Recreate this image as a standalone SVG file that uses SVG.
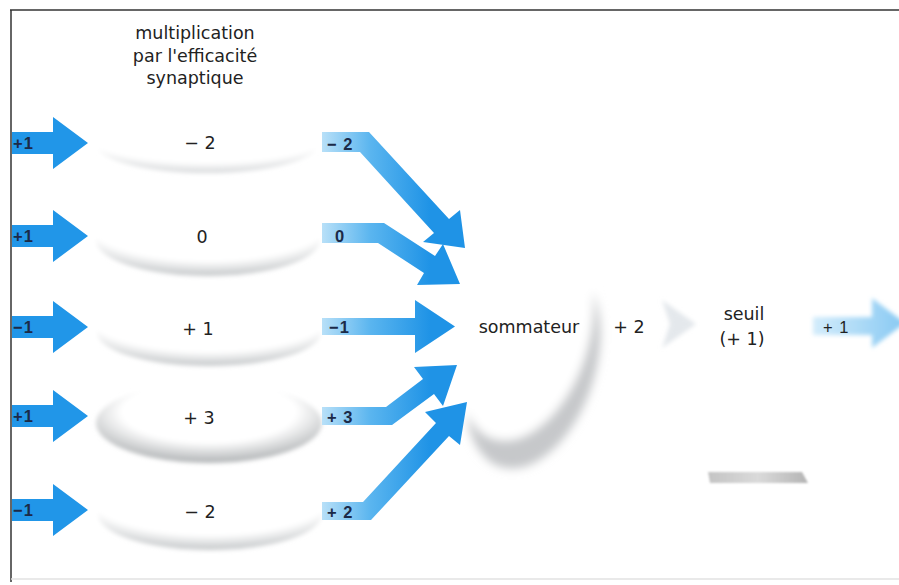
<svg xmlns="http://www.w3.org/2000/svg" width="899" height="585" viewBox="0 0 899 585">
<style>
  .t{font-family:"DejaVu Sans","Liberation Sans",sans-serif;fill:#222;}
  .title{font-size:17.5px;text-anchor:middle;}
  .val{font-size:17.5px;text-anchor:middle;}
  .lab{font-family:"Liberation Sans",sans-serif;font-size:16.5px;font-weight:bold;fill:#1b2a48;letter-spacing:1px;}
  .in{fill:#2196e8;}
  .out{fill:url(#outGrad);}
</style>
<defs>
  <linearGradient id="outGrad" gradientUnits="userSpaceOnUse" x1="322" y1="0" x2="430" y2="0">
    <stop offset="0" stop-color="#b8e0f8"/>
    <stop offset="0.45" stop-color="#5ab5ef"/>
    <stop offset="1" stop-color="#1f93e6"/>
  </linearGradient>
  <linearGradient id="finGrad" gradientUnits="userSpaceOnUse" x1="813" y1="0" x2="899" y2="0">
    <stop offset="0" stop-color="#d3ecfb"/>
    <stop offset="1" stop-color="#8ccbf3"/>
  </linearGradient>
  <radialGradient id="discFaint" cx="50%" cy="22%" r="78%">
    <stop offset="0.78" stop-color="#ffffff"/>
    <stop offset="1" stop-color="#d6d8da"/>
  </radialGradient>
  <radialGradient id="disc" cx="50%" cy="25%" r="75%">
    <stop offset="0.72" stop-color="#ffffff"/>
    <stop offset="1" stop-color="#c4c7c9"/>
  </radialGradient>
  <radialGradient id="discStrong" cx="50%" cy="36%" r="64%">
    <stop offset="0.6" stop-color="#ffffff"/>
    <stop offset="1" stop-color="#b0b3b5"/>
  </radialGradient>
  <linearGradient id="barGrad" x1="0" y1="0" x2="1" y2="0">
    <stop offset="0" stop-color="#c4c4c4"/>
    <stop offset="0.5" stop-color="#dadada"/>
    <stop offset="1" stop-color="#b4b4b4"/>
  </linearGradient>
  <filter id="soft" x="-20%" y="-20%" width="140%" height="140%">
    <feGaussianBlur stdDeviation="2"/>
  </filter>
  <filter id="soft1" x="-20%" y="-50%" width="140%" height="200%">
    <feGaussianBlur stdDeviation="0.8"/>
  </filter>
  <filter id="soft5" x="-30%" y="-30%" width="160%" height="160%">
    <feGaussianBlur stdDeviation="5"/>
  </filter>
</defs>

<rect x="0" y="0" width="899" height="585" fill="#ffffff"/>
<!-- frame -->
<g id="frame" fill="none">
  <line x1="10" y1="10" x2="899" y2="10" stroke="#333" stroke-width="1.5"/>
  <line x1="11" y1="10" x2="11" y2="582" stroke="#333" stroke-width="1.5"/>
  <line x1="11" y1="579" x2="899" y2="579" stroke="#e2e2e2" stroke-width="1.5"/>
</g>

<g id="title">
  <text class="t title" x="195" y="39">multiplication</text>
  <text class="t title" x="195" y="62">par l'efficacité</text>
  <text class="t title" x="195" y="84">synaptique</text>
</g>

<!-- discs (synapses) -->
<g id="disc1">
  <ellipse cx="207" cy="143" rx="112" ry="30" fill="url(#discFaint)" filter="url(#soft)"/>
  <text class="t val" x="200" y="149">− 2</text>
</g>
<g id="disc2">
  <ellipse cx="208" cy="240" rx="112" ry="36" fill="url(#disc)" filter="url(#soft)"/>
  <text class="t val" x="202" y="243">0</text>
</g>
<g id="disc3">
  <ellipse cx="209" cy="332" rx="112" ry="34" fill="url(#disc)" filter="url(#soft)"/>
  <text class="t val" x="198" y="335">+ 1</text>
</g>
<g id="disc4">
  <ellipse cx="209" cy="423" rx="113" ry="40" fill="url(#discStrong)" filter="url(#soft)"/>
  <text class="t val" x="199" y="424">+ 3</text>
</g>
<g id="disc5">
  <ellipse cx="210" cy="514" rx="112" ry="36" fill="url(#disc)" filter="url(#soft)"/>
  <text class="t val" x="200" y="518">− 2</text>
</g>

<!-- sommateur -->
<g id="sommateur">
  <g filter="url(#soft5)">
    <ellipse cx="533" cy="366" rx="62" ry="106" transform="rotate(18 533 366)" fill="#c6c8ca"/>
    <ellipse cx="526" cy="338" rx="62" ry="106" transform="rotate(18 526 338)" fill="#ffffff"/>
  </g>
  <text class="t val" x="529" y="333">sommateur</text>
</g>

<!-- seuil -->
<g id="seuil">
  <text class="t val" x="744" y="320">seuil</text>
  <text class="t val" x="742" y="345">(+ 1)</text>
  <polygon points="708,472 802,472 808,483 710,483" fill="url(#barGrad)" filter="url(#soft1)"/>
</g>

<g id="connectors">
  <!-- inputs -->
  <polygon class="in" points="12,132 53,132 53,117 88,143 53,169 53,154 12,154"/>
  <polygon class="in" points="12,225 53,225 53,210 88,236 53,262 53,247 12,247"/>
  <polygon class="in" points="12,316 53,316 53,301 88,327 53,353 53,338 12,338"/>
  <polygon class="in" points="12,405 53,405 53,390 88,416 53,442 53,427 12,427"/>
  <polygon class="in" points="12,499 53,499 53,484 88,510 53,536 53,521 12,521"/>
  <!-- outputs to sommateur -->
  <polygon class="out" points="322,132 369,132 449,219 460,210 465,248 423,242 434,233 360,152 322,152"/>
  <polygon class="out" points="322,223 384,223 435,256 443,244 460,284 417,285 424,273 378,243 322,243"/>
  <polygon class="out" points="322,318 415,318 415,300 455,326.5 415,353 415,335 322,335"/>
  <polygon class="out" points="322,407 386,407 423,379 414,367 457,365 443,406 434,394 392,425 322,425"/>
  <polygon class="out" points="322,502 363,502 436,423 425,412 467,402 460,445 449,436 371,520 322,520"/>
  <!-- sum to seuil (faint) -->
  <polygon points="662,300 696,324 662,348 670,324" fill="#e4e8ec" filter="url(#soft)"/>
  <!-- output -->
  <polygon fill="url(#finGrad)" points="813,317 872,317 872,298 905,323 872,348 872,335 813,335" filter="url(#soft)"/>
</g>

<g id="labels">
  <text class="lab" x="13" y="149">+1</text>
  <text class="lab" x="13" y="242">+1</text>
  <text class="lab" x="13" y="333">−1</text>
  <text class="lab" x="13" y="422">+1</text>
  <text class="lab" x="13" y="516">−1</text>
  <text class="lab" x="327" y="150">− 2</text>
  <text class="lab" x="335" y="242">0</text>
  <text class="lab" x="329" y="333">−1</text>
  <text class="lab" x="327" y="423">+ 3</text>
  <text class="lab" x="327" y="518">+ 2</text>
  <text class="t val" x="629" y="333">+ 2</text>
  <text class="lab" x="823" y="333" style="font-weight:normal;fill:#222">+ 1</text>
</g>
</svg>
